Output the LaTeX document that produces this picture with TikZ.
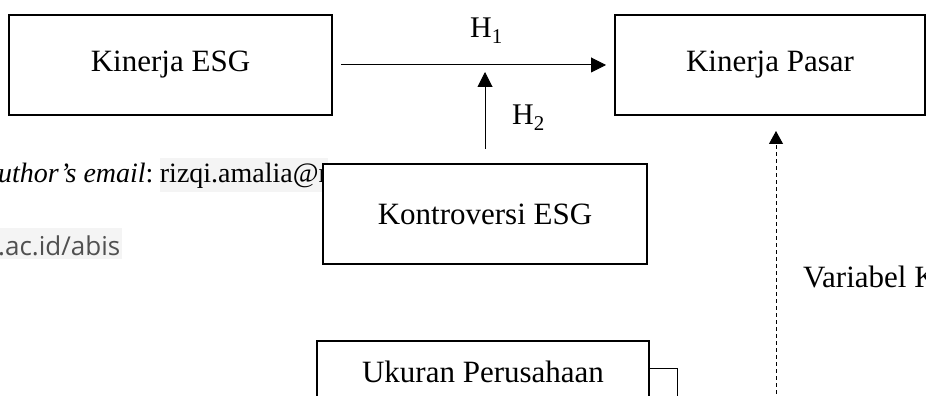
\documentclass[tikz,border=0pt]{standalone}
\usepackage{fontspec}
\setmainfont{Liberation Serif}
\newfontfamily\webfont{Open Sans}
\usetikzlibrary{arrows.meta,positioning}
\definecolor{teksweb}{HTML}{505050}
\definecolor{latarweb}{HTML}{F4F4F4}

\begin{document}
\begin{tikzpicture}[x=1pt,y=1pt,
  kotak/.style={draw,line width=2pt,fill=white,inner sep=0pt,minimum height=100pt,font=\fontsize{31}{36}\selectfont},
  panah/.style={line width=1pt,-{Triangle[length=15pt,width=15pt]}},
  label h/.style={inner sep=0pt,anchor=base west,font=\fontsize{30}{36}\selectfont}]
  \clip (0,0) rectangle (926,396);

  % teks halaman yang tertutup kotak
  \node [label h,font=\fontsize{28}{33}\selectfont] (mail) at (-2,213) {\textit{uthor’s email}:};
  \node [anchor=base west,fill=latarweb,inner xsep=0pt,inner ysep=0pt,text height=25pt,text depth=9pt,
    font=\fontsize{28}{33}\selectfont] (mailid) at ([xshift=6pt]mail.base east) {rizqi.amalia@r};
  \node [anchor=base west,fill=latarweb,text=teksweb,inner xsep=2pt,inner ysep=0pt,text height=28pt,text depth=3pt,
    font=\webfont\fontsize{26}{30}\selectfont] (web) at (-4,140) {.ac.id/abis};

  \node [kotak,minimum width=323pt] (esg) at (170.5,331) {Kinerja ESG};
  \node [kotak,minimum width=310pt] (pasar) at (770,331) {Kinerja Pasar};
  \node [kotak,minimum width=324pt] (kontro) at (485,182) {Kontroversi ESG};
  \node [kotak,minimum width=332pt,minimum height=62pt] (ukuran) at (483,24) {Ukuran Perusahaan};

  \node [label h] (h1) at (470,358) {H\textsubscript{1}};
  \node [label h] (h2) at (512,271) {H\textsubscript{2}};
  \node [label h,font=\fontsize{31}{36}\selectfont] (kontrolvar) at (803,108) {Variabel K};

  \coordinate (temu) at (kontro.north |- esg.east);
  \coordinate (kontrol) at (776,-5);
  \coordinate (ukuranke) at (677,-5);

  \draw [panah] ([xshift=8pt]esg.east) -- ([xshift=-8pt]pasar.west);
  \draw [panah] ([yshift=14pt]kontro.north) -- ([yshift=-7pt]temu);
  \draw [line width=1pt,dash pattern=on 4pt off 3pt,-{Triangle[length=13pt,width=14pt]}]
    (kontrol) -- ([yshift=-15pt]kontrol |- pasar.south);
  \draw [line width=1pt] ([yshift=3pt]ukuran.east) -| (ukuranke);
\end{tikzpicture}
\end{document}
